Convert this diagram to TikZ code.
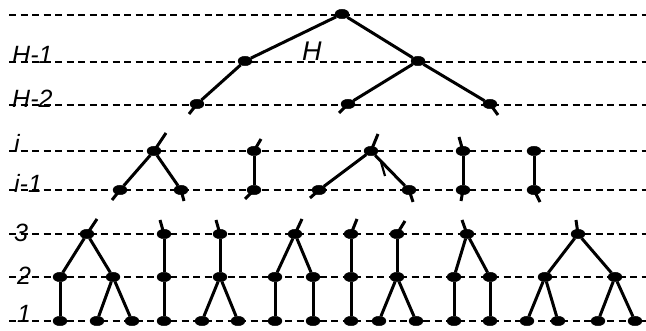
\documentclass[tikz,border=0pt]{standalone}
\usepackage{fontspec}
\setmainfont{Liberation Sans}
\usetikzlibrary{shapes.geometric}
\begin{document}
\begin{tikzpicture}[x=1pt,y=-1pt,
  blob/.style={ellipse,fill=black,draw=black,minimum width=14pt,minimum height=9.5pt,inner sep=0pt},
  edge/.style={line width=3pt},
  level/.style={line width=2pt,dash pattern=on 7pt off 4.5pt},
  lab/.style={font=\itshape\fontsize{25}{25}\selectfont,inner sep=0pt,anchor=base west}]
\useasboundingbox (0,0) rectangle (646,331);
% level lines
\foreach \yy/\nm in {15/l0,62/l1,105/l2,151/l3,190/l4,234/l5,277/l6,321/l7}{
  \coordinate (\nm a) at (9,\yy);
  \coordinate (\nm b) at (646,\yy);
  \draw[level] (\nm a) -- (\nm b);
}
% labels
\node[lab] (tH1) at (12,64) {H-1};
\node[lab] (tH2) at (12,108) {H-2};
\node[lab] (ti) at (14,153) {i};
\node[lab] (ti1) at (14,193) {i-1};
\node[lab] (t3) at (14,242) {3};
\node[lab] (t2) at (17,285) {2};
\node[lab] (t1) at (17,323) {1};
\node[lab,font=\itshape\fontsize{27}{27}\selectfont] (tH) at (302,61) {H};
% ---- top tree
\node[blob] (t) at (342,14) {};
\node[blob] (a1) at (245,61) {};
\node[blob] (a2) at (418,61) {};
\node[blob] (b1) at (197,104) {};
\node[blob] (b2) at (348,104) {};
\node[blob] (b3) at (490,104) {};
\coordinate (sb1) at (189,114);
\coordinate (sb2) at (339,113);
\coordinate (sb3) at (498,115);
\draw[edge] (t) -- (a1); \draw[edge] (t) -- (a2);
\draw[edge] (a1) -- (b1); \draw[edge] (a2) -- (b2); \draw[edge] (a2) -- (b3);
\draw[edge] (b1.center) -- (sb1); \draw[edge] (b2.center) -- (sb2); \draw[edge] (b3.center) -- (sb3);
% ---- i / i-1 row
\node[blob] (c1) at (154,151) {};
\node[blob] (c2) at (254,151) {};
\node[blob] (c3) at (371,151) {};
\node[blob] (c4) at (463,151) {};
\node[blob] (c5) at (534,151) {};
\node[blob] (d1) at (120,190) {};
\node[blob] (d2) at (181,190) {};
\node[blob] (d3) at (254,190) {};
\node[blob] (d4) at (319,190) {};
\node[blob] (d5) at (409,190) {};
\node[blob] (d6) at (463,190) {};
\node[blob] (d7) at (534,190) {};
\coordinate (sc1) at (166,133);
\coordinate (sc2) at (261,139);
\coordinate (sc3) at (378,134);
\coordinate (sc4) at (459,137);
\coordinate (sd1) at (112,200);
\coordinate (sd2) at (184,201);
\coordinate (sd3) at (245,199);
\coordinate (sd4) at (310,198);
\coordinate (sd5) at (413,202);
\coordinate (sd6) at (461,201);
\coordinate (sd7) at (540,202);
\coordinate (k1) at (381,162);
\coordinate (k2) at (385,176);
\draw[edge] (c1) -- (d1); \draw[edge] (c1) -- (d2);
\draw[edge] (c2) -- (d3);
\draw[edge] (c3) -- (d4); \draw[edge] (c3) -- (d5);
\draw[edge] (c4) -- (d6);
\draw[edge] (c5) -- (d7);
\foreach \n in {1,2,3,4}{\draw[edge] (c\n.center) -- (sc\n);}
\foreach \n in {1,...,7}{\draw[edge] (d\n.center) -- (sd\n);}
\draw[line width=2.2pt] (k1) -- (k2);
% ---- bottom rows
% tree 1
\node[blob] (e1) at (87,234) {};
\node[blob] (f1) at (60,277) {};
\node[blob] (f2) at (113,277) {};
\node[blob] (g1) at (60,321) {};
\node[blob] (g2) at (97,321) {};
\node[blob] (g3) at (132,321) {};
\coordinate (se1) at (97,219);
\draw[edge] (e1) -- (f1); \draw[edge] (e1) -- (f2);
\draw[edge] (f1) -- (g1); \draw[edge] (f2) -- (g2); \draw[edge] (f2) -- (g3);
% tree 2
\node[blob] (e2) at (164,234) {};
\node[blob] (f3) at (164,277) {};
\node[blob] (g4) at (164,321) {};
\coordinate (se2) at (160,220);
\draw[edge] (e2) -- (f3); \draw[edge] (f3) -- (g4);
% tree 3
\node[blob] (e3) at (220,234) {};
\node[blob] (f4) at (220,277) {};
\node[blob] (g5) at (202,321) {};
\node[blob] (g6) at (238,321) {};
\coordinate (se3) at (216,220);
\draw[edge] (e3) -- (f4); \draw[edge] (f4) -- (g5); \draw[edge] (f4) -- (g6);
% tree 4
\node[blob] (e4) at (295,234) {};
\node[blob] (f5) at (275,277) {};
\node[blob] (f6) at (313,277) {};
\node[blob] (g7) at (275,321) {};
\node[blob] (g8) at (313,321) {};
\coordinate (se4) at (302,219);
\draw[edge] (e4) -- (f5); \draw[edge] (e4) -- (f6);
\draw[edge] (f5) -- (g7); \draw[edge] (f6) -- (g8);
% tree 5
\node[blob] (e5) at (351,234) {};
\node[blob] (f7) at (351,277) {};
\node[blob] (g9) at (351,321) {};
\coordinate (se5) at (357,219);
\draw[edge] (e5) -- (f7); \draw[edge] (f7) -- (g9);
% tree 6
\node[blob] (e6) at (397,234) {};
\node[blob] (f8) at (397,277) {};
\node[blob] (g10) at (379,321) {};
\node[blob] (g11) at (416,321) {};
\coordinate (se6) at (405,221);
\draw[edge] (e6) -- (f8); \draw[edge] (f8) -- (g10); \draw[edge] (f8) -- (g11);
% tree 7
\node[blob] (e7) at (467,234) {};
\node[blob] (f9) at (454,277) {};
\node[blob] (f10) at (490,277) {};
\node[blob] (g12) at (454,321) {};
\node[blob] (g13) at (490,321) {};
\coordinate (se7) at (462,220);
\draw[edge] (e7) -- (f9); \draw[edge] (e7) -- (f10);
\draw[edge] (f9) -- (g12); \draw[edge] (f10) -- (g13);
% tree 8
\node[blob] (e8) at (578,234) {};
\node[blob] (f11) at (545,277) {};
\node[blob] (f12) at (615,277) {};
\node[blob] (g14) at (527,321) {};
\node[blob] (g15) at (558,321) {};
\node[blob] (g16) at (598,321) {};
\node[blob] (g17) at (635,321) {};
\coordinate (se8) at (576,220);
\draw[edge] (e8) -- (f11); \draw[edge] (e8) -- (f12);
\draw[edge] (f11) -- (g14); \draw[edge] (f11) -- (g15);
\draw[edge] (f12) -- (g16); \draw[edge] (f12) -- (g17);
\foreach \n in {1,...,8}{\draw[edge] (e\n.center) -- (se\n);}
\end{tikzpicture}
\end{document}
